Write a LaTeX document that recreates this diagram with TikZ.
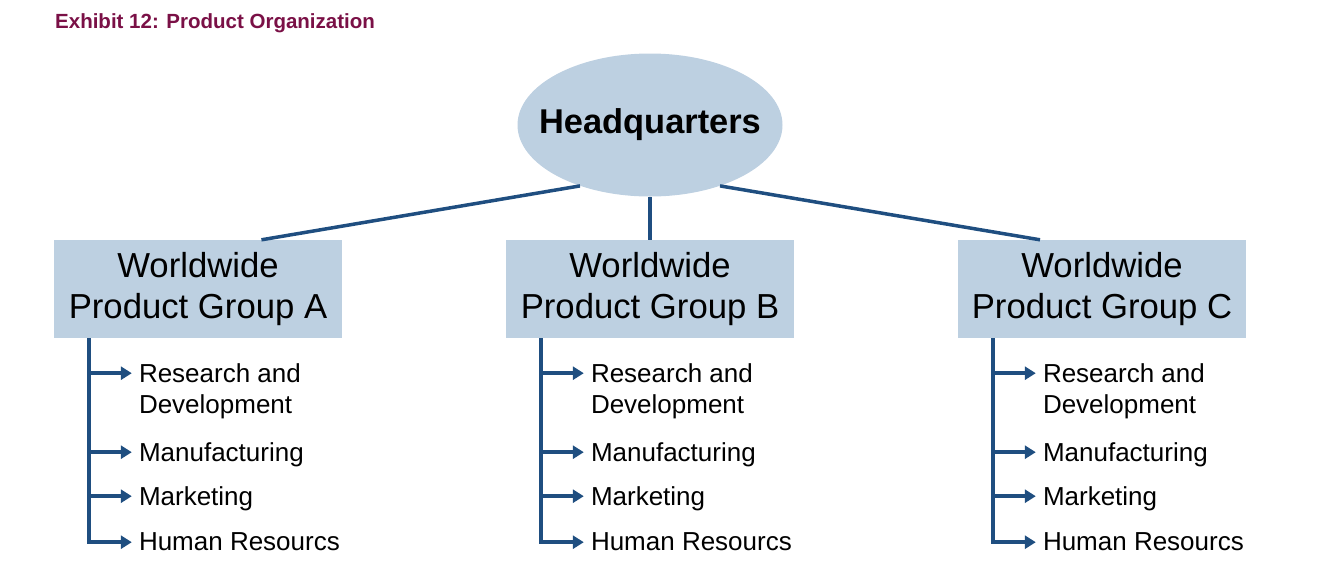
\documentclass[tikz,border=0pt]{standalone}
\usepackage{fontspec}
\setmainfont{Liberation Sans}
\usepackage{xcolor}
\usepackage{tikz}
\usetikzlibrary{shapes.geometric, arrows.meta, calc}
\definecolor{orgfill}{RGB}{189, 208, 225}
\definecolor{orglink}{RGB}{31, 78, 128}
\definecolor{orgtitle}{RGB}{122, 16, 70}

\begin{document}
\begin{tikzpicture}[x=1pt, y=-1pt,
	grpbox/.style={fill=orgfill, minimum width=\bw pt, minimum height=\bh pt, inner sep=0pt, align=center, font=\fontsize{34.7}{41}\selectfont},
	item/.style={anchor=north west, inner xsep=7pt, inner ysep=0pt, align=left, font=\fontsize{26}{31}\selectfont},
	link/.style={draw=orglink, line width=3.5pt},
	arr/.style={link, line cap=rect, -{Triangle[length=11pt, width=13pt]}}]
			\def\bw{288}
			\def\bh{98}
			
			\useasboundingbox (0, 0) rectangle (1334, 582);
			
			\node[anchor=base west, inner sep=0pt, text=orgtitle, font=\bfseries\fontsize{20.5}{24}\selectfont] (title) at (55, 28) {Exhibit 12: Product Organization};
			
			\node[ellipse, fill=orgfill, minimum width=265pt, minimum height=143pt, inner sep=0pt,
				label={[font=\bfseries\fontsize{34.4}{41}\selectfont]center:Headquarters}] (hq) at (650, 125) {};
			
			\foreach \g/\cx/\l in {a/198/A, b/650/B, c/1102/C} {
				\node[grpbox] (g\g) at (\cx, 289) {Worldwide\\Product Group \l};
				\coordinate (bus\g) at ($(g\g.south west)+(35, 0)$);
				
				\node[item] (\g1) at ($(g\g.south west)+(78, 25)$) {Research and\\Development};
				\node[item] (\g2) at ($(g\g.south west)+(78, 104)$) {Manufacturing};
				\node[item] (\g3) at ($(g\g.south west)+(78, 148)$) {Marketing};
				\node[item] (\g4) at ($(g\g.south west)+(78, 194)$) {Human Resourcs};
				
				\draw[link] (bus\g) -- ($(bus\g |- \g4.north)+(0, 10)$);
				\foreach \i in {1,2,3,4} {
					\draw[arr] ($(bus\g |- \g\i.north)+(0, 10)$) -- ($(\g\i.north west)+(0, 10)$);
				}
			}
			
			% headquarters to the product groups
			\draw[link] (hq.221) -- ($(ga.north west)!0.72!(ga.north east)$);
			\draw[link] (hq.south) -- (gb.north);
			\draw[link] (hq.319) -- ($(gc.north west)!0.285!(gc.north east)$);
			
		\end{tikzpicture}
\end{document}
